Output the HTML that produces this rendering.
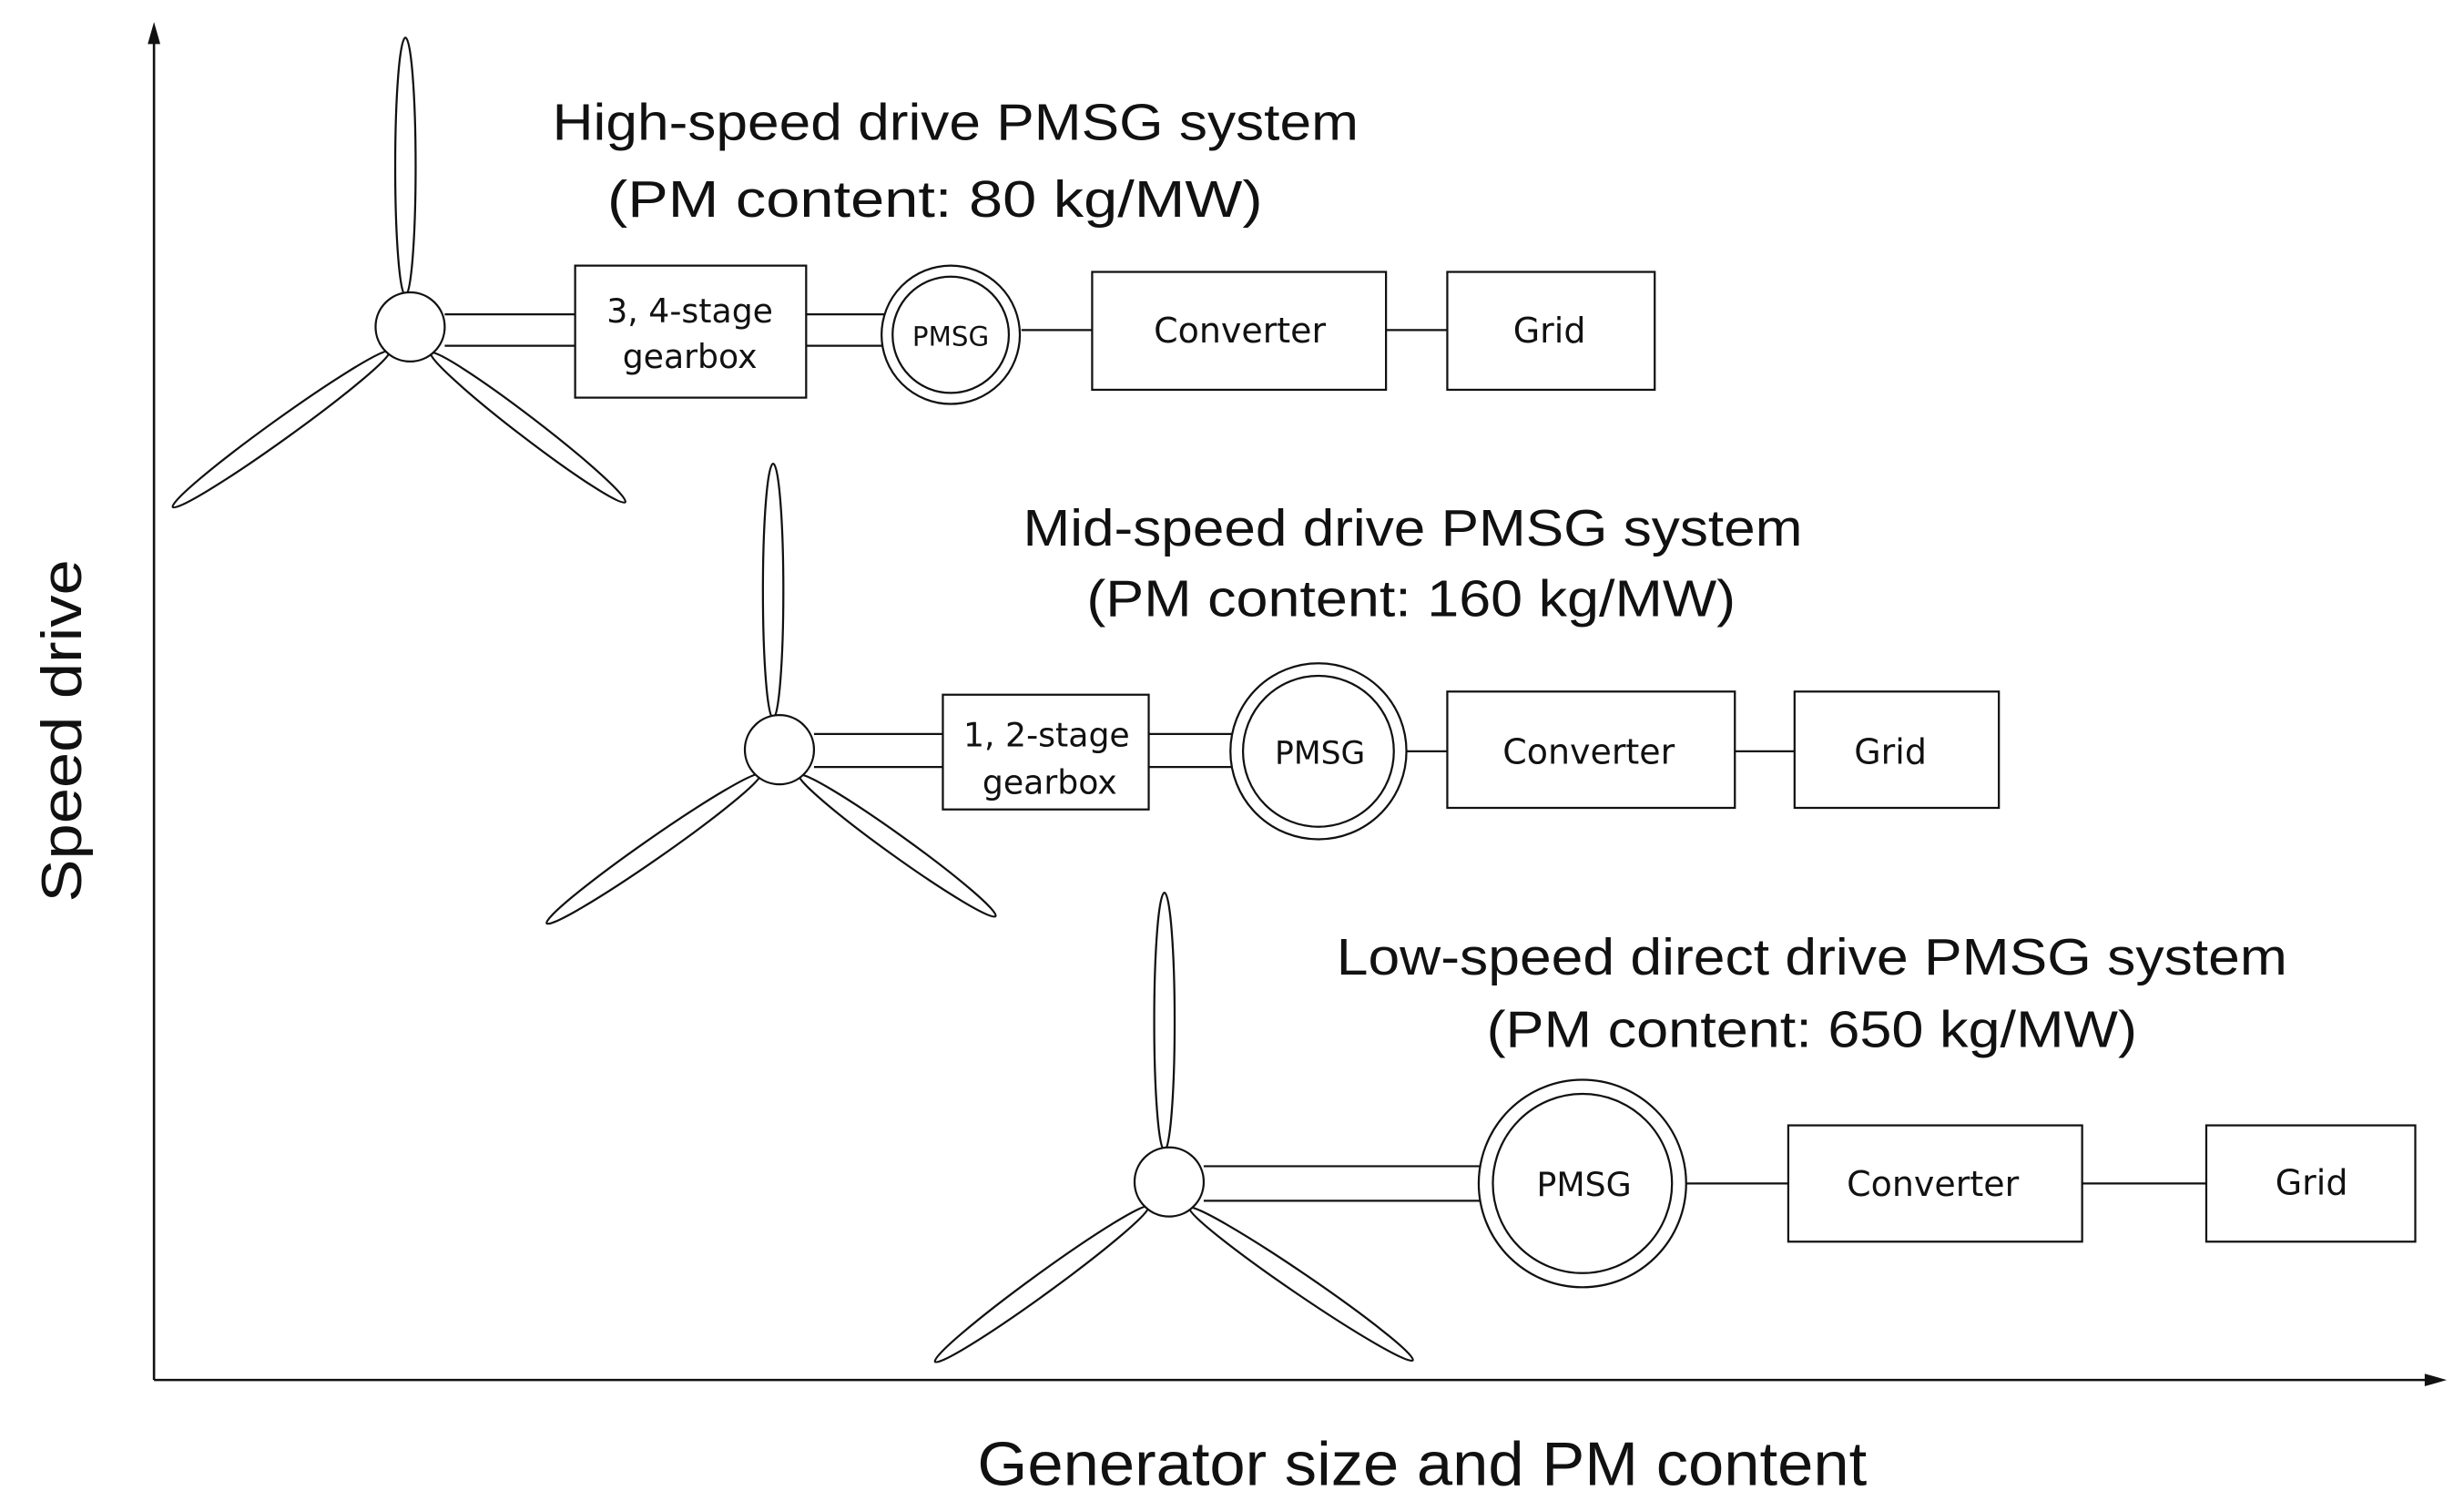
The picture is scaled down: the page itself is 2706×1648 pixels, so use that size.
<!DOCTYPE html>
<html><head><meta charset="utf-8"><style>
html,body{margin:0;padding:0;background:#fff;}
svg{display:block;}
.t{font-family:"Liberation Sans",Arial,sans-serif;fill:#111;}
.b{font-family:"DejaVu Sans",Verdana,sans-serif;fill:#111;}
</style></head><body>
<svg width="2706" height="1648" viewBox="0 0 1568 955" preserveAspectRatio="none" xmlns="http://www.w3.org/2000/svg">
<g stroke="#111" stroke-width="1.5" fill="none">
<line x1="98" y1="24" x2="98" y2="878"/>
<line x1="98" y1="878" x2="1545" y2="878"/>
</g>
<polygon points="98,14 94,28 102,28" fill="#111"/>
<polygon points="1557,878 1543,874 1543,882" fill="#111"/>
<text class="t" x="42" y="465" font-size="36" text-anchor="middle" transform="rotate(-90 42 465)" dominant-baseline="middle" textLength="218" lengthAdjust="spacingAndGlyphs">Speed drive</text>
<text class="t" x="905" y="945" font-size="39" text-anchor="middle" textLength="566" lengthAdjust="spacingAndGlyphs">Generator size and PM content</text>

<g stroke="#111" stroke-width="1.3" fill="#fff">
<ellipse cx="0" cy="0" rx="82" ry="6.5" transform="translate(258,106) rotate(90)"/>
<ellipse cx="0" cy="0" rx="85" ry="6.5" transform="translate(179,273) rotate(144.3)"/>
<ellipse cx="0" cy="0" rx="78" ry="6.5" transform="translate(336,272) rotate(37.5)"/>
<line x1="283" y1="200" x2="366" y2="200"/><line x1="283" y1="220" x2="366" y2="220"/>
<circle cx="261" cy="208" r="22"/>
<rect x="366" y="169" width="147" height="84"/>
<line x1="513" y1="200" x2="563" y2="200"/><line x1="513" y1="220" x2="563" y2="220"/>
<circle cx="605" cy="213" r="44"/><circle cx="605" cy="213" r="37"/>
<line x1="650" y1="210" x2="695" y2="210"/>
<rect x="695" y="173" width="187" height="75"/>
<line x1="882" y1="210" x2="921" y2="210"/>
<rect x="921" y="173" width="132" height="75"/>

<ellipse cx="0" cy="0" rx="81" ry="6.5" transform="translate(492,376) rotate(90)"/>
<ellipse cx="0" cy="0" rx="83" ry="6.5" transform="translate(416,540) rotate(145.1)"/>
<ellipse cx="0" cy="0" rx="77" ry="6.5" transform="translate(571,538) rotate(35.7)"/>
<line x1="518" y1="467" x2="600" y2="467"/><line x1="518" y1="488" x2="600" y2="488"/>
<circle cx="496" cy="477" r="22"/>
<rect x="600" y="442" width="131" height="73"/>
<line x1="731" y1="467" x2="785" y2="467"/><line x1="731" y1="488" x2="785" y2="488"/>
<circle cx="839" cy="478" r="56"/><circle cx="839" cy="478" r="48"/>
<line x1="895" y1="478" x2="921" y2="478"/>
<rect x="921" y="440" width="183" height="74"/>
<line x1="1104" y1="478" x2="1142" y2="478"/>
<rect x="1142" y="440" width="130" height="74"/>

<ellipse cx="0" cy="0" rx="82" ry="6.5" transform="translate(741,650) rotate(90)"/>
<ellipse cx="0" cy="0" rx="84" ry="6.5" transform="translate(663,817) rotate(144)"/>
<ellipse cx="0" cy="0" rx="86" ry="6.5" transform="translate(828,817) rotate(34.3)"/>
<line x1="766" y1="742" x2="943" y2="742"/><line x1="766" y1="764" x2="943" y2="764"/>
<circle cx="744" cy="752" r="22"/>
<circle cx="1007" cy="753" r="66"/><circle cx="1007" cy="753" r="57"/>
<line x1="1073" y1="753" x2="1138" y2="753"/>
<rect x="1138" y="716" width="187" height="74"/>
<line x1="1325" y1="753" x2="1404" y2="753"/>
<rect x="1404" y="716" width="133" height="74"/>
</g>

<text class="t" x="608" y="89" font-size="33" text-anchor="middle" textLength="513" lengthAdjust="spacingAndGlyphs">High-speed drive PMSG system</text>
<text class="t" x="595" y="138" font-size="33" text-anchor="middle" textLength="417" lengthAdjust="spacingAndGlyphs">(PM content: 80 kg/MW)</text>
<text class="t" x="899" y="347" font-size="33" text-anchor="middle" textLength="496" lengthAdjust="spacingAndGlyphs">Mid-speed drive PMSG system</text>
<text class="t" x="898" y="392" font-size="33" text-anchor="middle" textLength="413" lengthAdjust="spacingAndGlyphs">(PM content: 160 kg/MW)</text>
<text class="t" x="1153" y="620" font-size="33" text-anchor="middle" textLength="605" lengthAdjust="spacingAndGlyphs">Low-speed direct drive PMSG system</text>
<text class="t" x="1153" y="666" font-size="33" text-anchor="middle" textLength="414" lengthAdjust="spacingAndGlyphs">(PM content: 650 kg/MW)</text>

<text class="b" x="439" y="205" font-size="21" text-anchor="middle">3, 4-stage</text>
<text class="b" x="439" y="234" font-size="21" text-anchor="middle">gearbox</text>
<text class="b" x="605" y="220" font-size="17" text-anchor="middle">PMSG</text>
<text class="b" x="789" y="218" font-size="22" text-anchor="middle">Converter</text>
<text class="b" x="986" y="218" font-size="22" text-anchor="middle">Grid</text>

<text class="b" x="666" y="475" font-size="21" text-anchor="middle">1, 2-stage</text>
<text class="b" x="668" y="505" font-size="21" text-anchor="middle">gearbox</text>
<text class="b" x="840" y="486" font-size="20" text-anchor="middle">PMSG</text>
<text class="b" x="1011" y="486" font-size="22" text-anchor="middle">Converter</text>
<text class="b" x="1203" y="486" font-size="22" text-anchor="middle">Grid</text>

<text class="b" x="1008" y="761" font-size="21" text-anchor="middle">PMSG</text>
<text class="b" x="1230" y="761" font-size="22" text-anchor="middle">Converter</text>
<text class="b" x="1471" y="760" font-size="22" text-anchor="middle">Grid</text>
</svg>
</body></html>
